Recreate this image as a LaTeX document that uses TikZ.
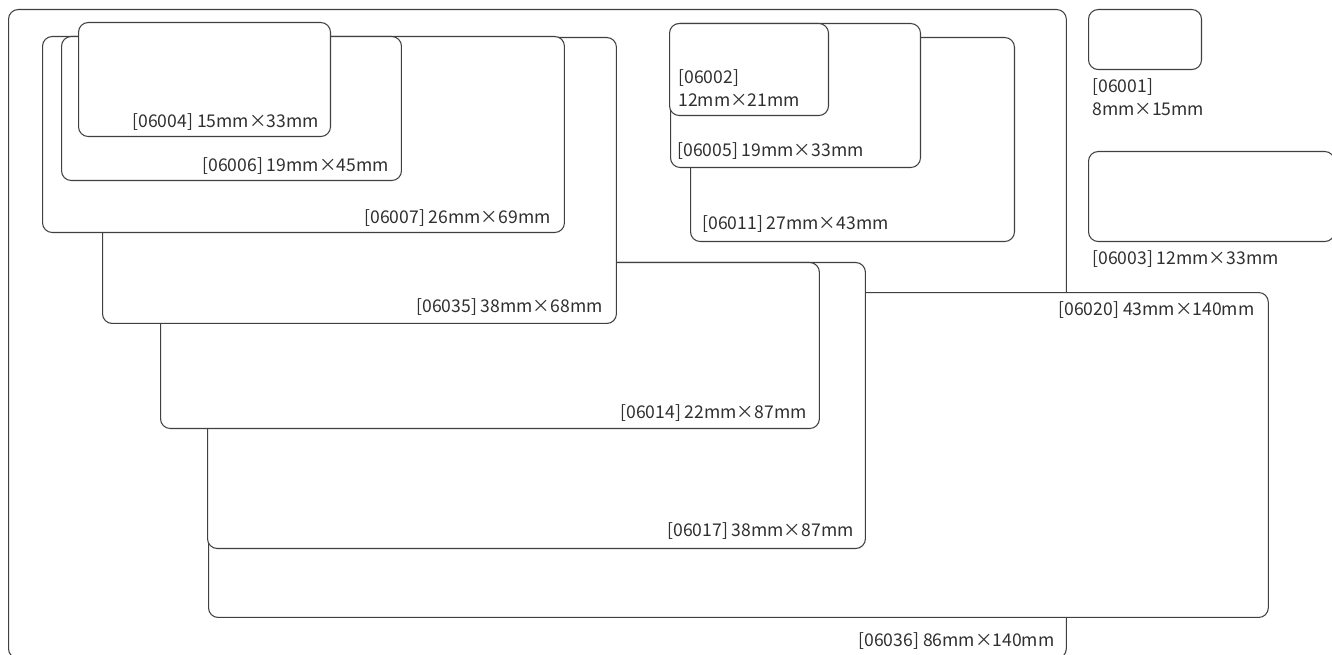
\documentclass[tikz,border=0pt]{standalone}
\usepackage{fontspec}
\setmainfont{Noto Sans CJK SC}
\usetikzlibrary{calc}
\definecolor{edgegray}{HTML}{404040}
\definecolor{inkgray}{HTML}{303030}

\begin{document}
\begin{tikzpicture}[
    x=0.02cm, y=-0.02cm,
    box/.style={draw=edgegray, fill=white, line width=0.6pt, rounded corners=5.5pt, anchor=north west, inner sep=0pt},
    lbl/.style={inner sep=0pt, text=inkgray, font=\fontsize{10}{13}\selectfont, align=left}
]
\useasboundingbox (0,0) rectangle (1332,655);
% big sheet
\node[box, minimum width=21.16cm, minimum height=12.98cm] (b06036) at (8,9) {};
\node[lbl, anchor=east] (t06036) at ($(b06036.south east)+(-12,-18)$) {[06036] 86mm×140mm};
\node[box, minimum width=21.2cm, minimum height=6.5cm] (b06020) at (208,292) {};
\node[lbl, anchor=east] (t06020) at ($(b06020.north east)+(-14,18)$) {[06020] 43mm×140mm};
\node[box, minimum width=13.16cm, minimum height=5.72cm] (b06017) at (207,262) {};
\node[lbl, anchor=east] (t06017) at ($(b06017.south east)+(-12,-18)$) {[06017] 38mm×87mm};
\node[box, minimum width=13.18cm, minimum height=3.32cm] (b06014) at (160,262) {};
\node[lbl, anchor=east] (t06014) at ($(b06014.south east)+(-13,-16)$) {[06014] 22mm×87mm};
\node[box, minimum width=10.28cm, minimum height=5.72cm] (b06035) at (102,37) {};
\node[lbl, anchor=east] (t06035) at ($(b06035.south east)+(-14,-17)$) {[06035] 38mm×68mm};
\node[box, minimum width=10.44cm, minimum height=3.92cm] (b06007) at (42,36) {};
\node[lbl, anchor=east] (t06007) at ($(b06007.south east)+(-14,-15)$) {[06007] 26mm×69mm};
\node[box, minimum width=6.8cm, minimum height=2.88cm] (b06006) at (61,36) {};
\node[lbl, anchor=east] (t06006) at ($(b06006.south east)+(-13,-15)$) {[06006] 19mm×45mm};
\node[box, minimum width=5.04cm, minimum height=2.28cm] (b06004) at (78,22) {};
\node[lbl, anchor=east] (t06004) at ($(b06004.south east)+(-12,-15)$) {[06004] 15mm×33mm};
% middle group
\node[box, minimum width=6.48cm, minimum height=4.08cm] (b06011) at (690,37) {};
\node[lbl, anchor=west] (t06011) at ($(b06011.south west)+(12,-18)$) {[06011] 27mm×43mm};
\node[box, minimum width=5.0cm, minimum height=2.88cm] (b06005) at (670,23) {};
\node[lbl, anchor=west] (t06005) at ($(b06005.south west)+(7,-17)$) {[06005] 19mm×33mm};
\node[box, minimum width=3.18cm, minimum height=1.84cm] (b06002) at (669,23) {};
\node[lbl, anchor=west] (t06002) at ($(b06002.south west)+(9,-28)$) {[06002]\\12mm×21mm};
% small ones on the right
\node[box, minimum width=2.26cm, minimum height=1.2cm] (b06001) at (1088,9) {};
\node[lbl, anchor=west] (t06001) at ($(b06001.south west)+(4,27)$) {[06001]\\8mm×15mm};
\node[box, minimum width=4.92cm, minimum height=1.8cm] (b06003) at (1088,151) {};
\node[lbl, anchor=west] (t06003) at ($(b06003.south west)+(4,17)$) {[06003] 12mm×33mm};
\end{tikzpicture}
\end{document}
